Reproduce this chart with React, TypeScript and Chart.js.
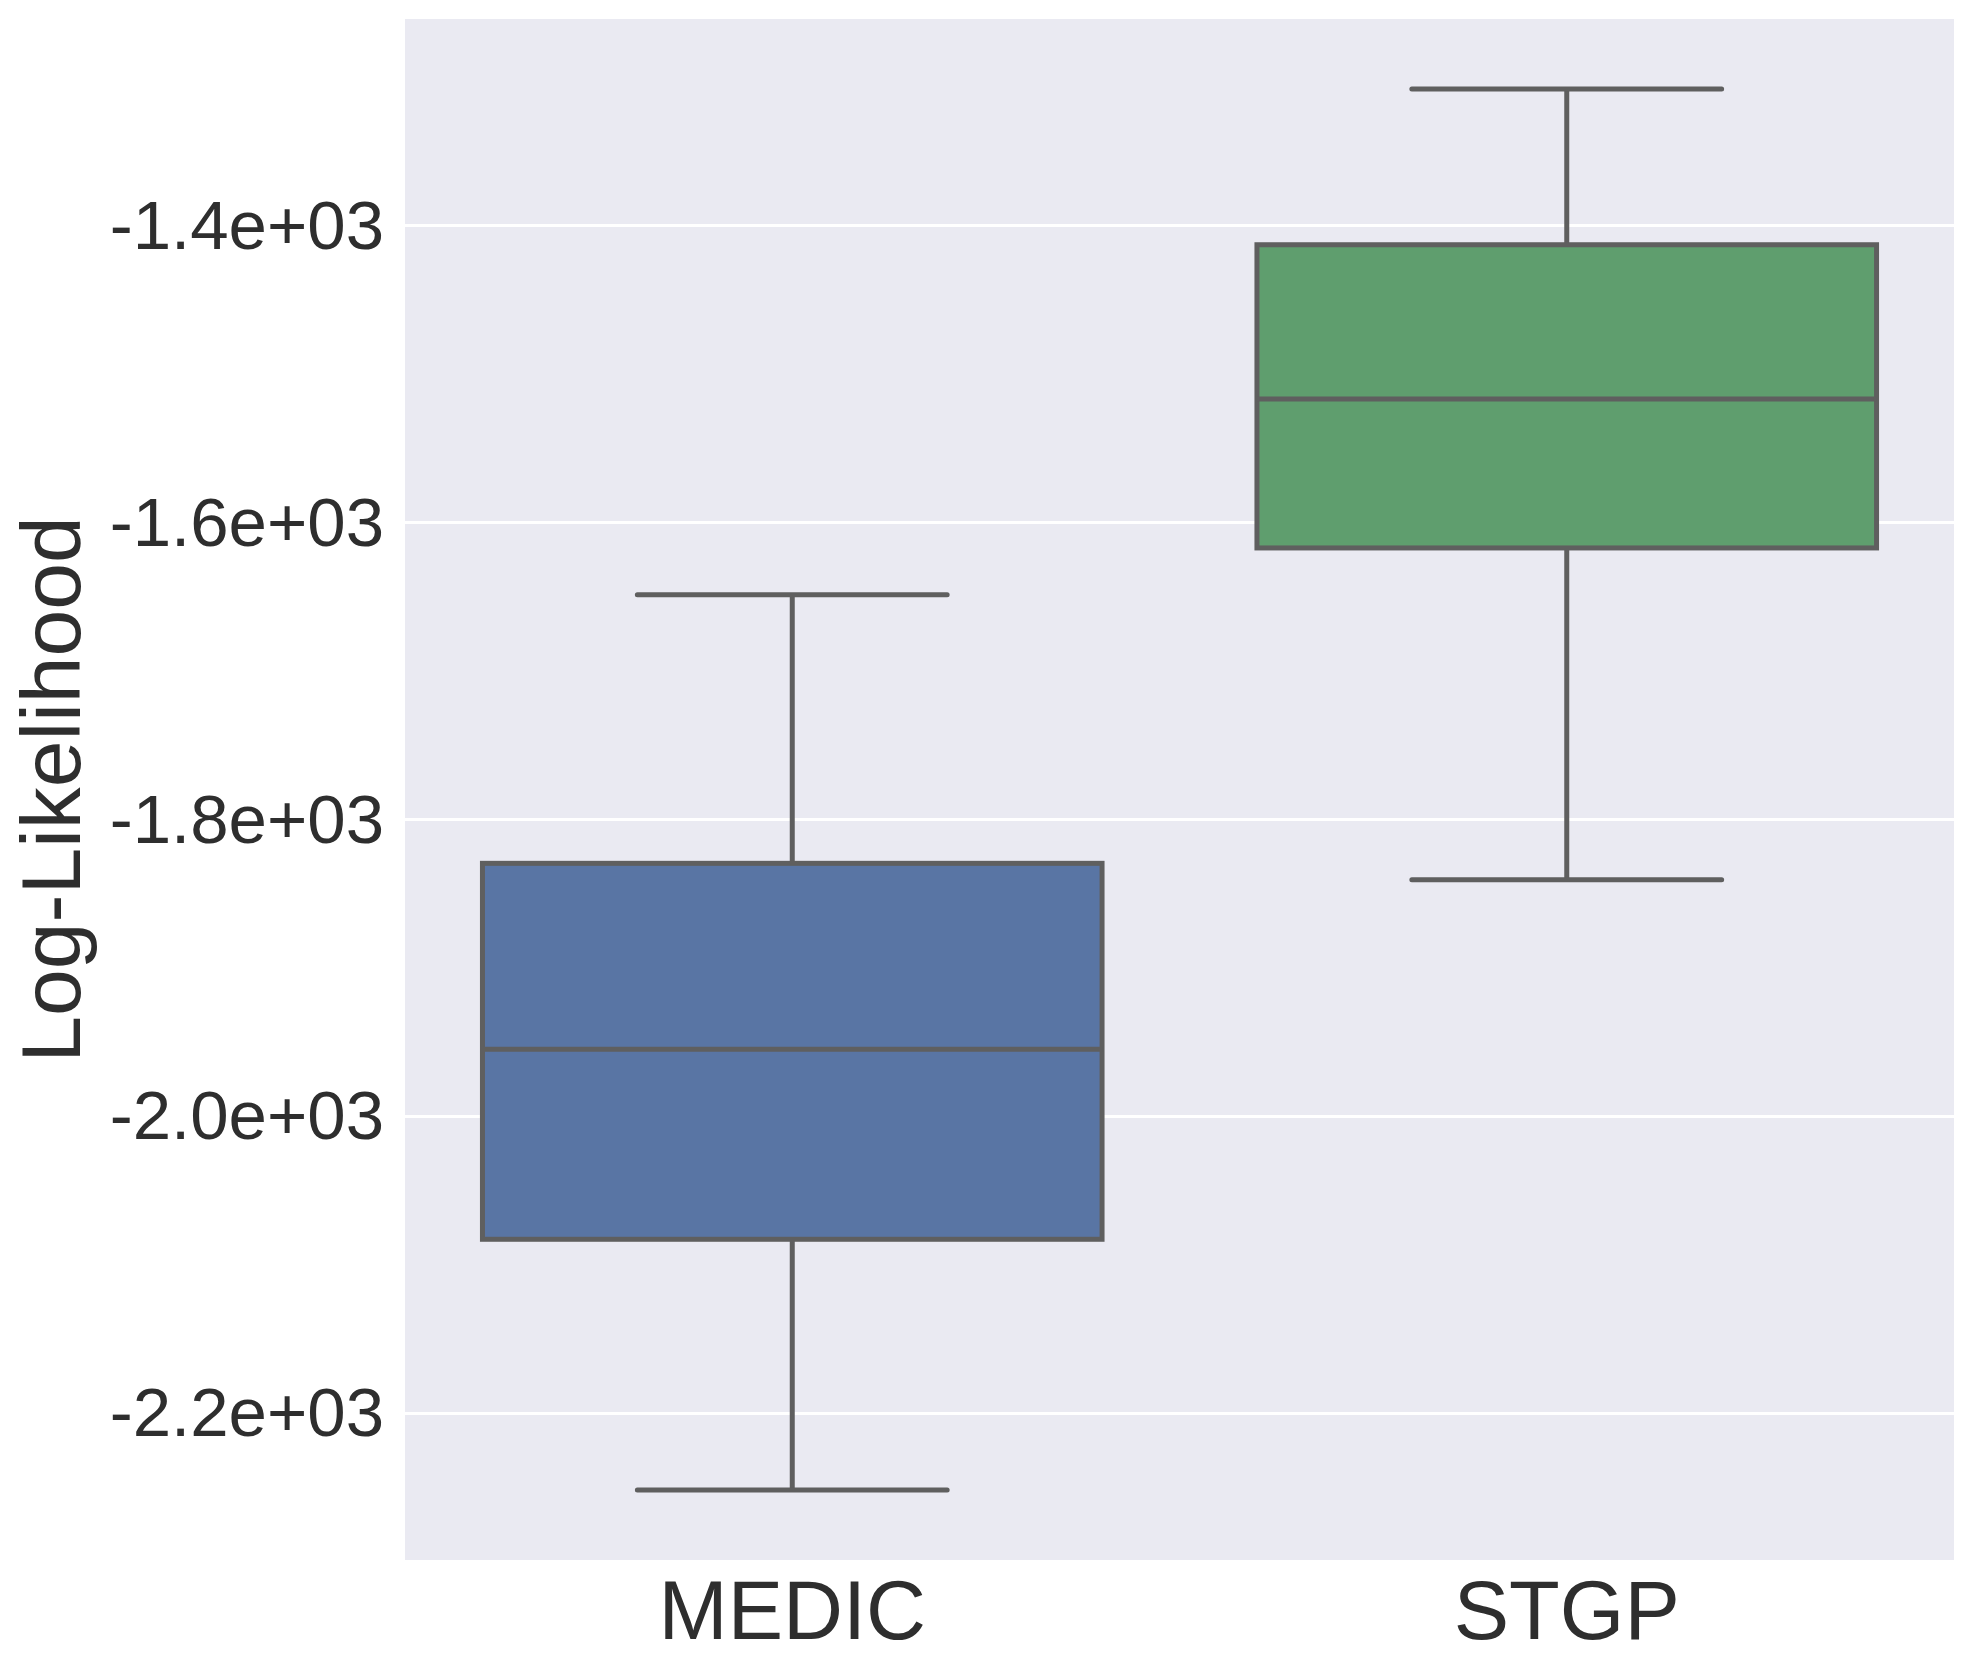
import React, { useEffect, useRef } from 'react';
import { Chart, registerables } from 'chart.js';

Chart.register(...registerables);

// ---- data ----
const categories = ['MEDIC', 'STGP'];
const whiskerLow = [-2251.7, -1840.5];
const q1 = [-2082.8, -1617.0];
const median = [-1954.8, -1516.7];
const q3 = [-1829.5, -1412.7];
const whiskerHigh = [-1648.6, -1307.8];
const boxColors = ['#5975a4', '#5f9e6e'];
const yTickValues = [-2200, -2000, -1800, -1600, -1400];
const yTickLabels = ['-2.2e+03', '-2.0e+03', '-1.8e+03', '-1.6e+03', '-1.4e+03'];
const yAxisLabel = 'Log-Likelihood';

const LINE_COLOR = '#5f5f5f';
const TEXT_COLOR = '#2e2e2e';
const FONT = '"Liberation Sans", Arial, sans-serif';

const dataMin = Math.min(...whiskerLow);
const dataMax = Math.max(...whiskerHigh);
const margin = (dataMax - dataMin) * 0.05;

const boxPlugin = {
  id: 'boxExtras',
  beforeDraw(chart: any) {
    const { ctx, chartArea } = chart;
    ctx.save();
    ctx.fillStyle = '#eaeaf2';
    ctx.fillRect(chartArea.left, chartArea.top, chartArea.right - chartArea.left, chartArea.bottom - chartArea.top);
    ctx.restore();
  },
  afterDatasetsDraw(chart: any) {
    const { ctx } = chart;
    const xs = chart.scales.x;
    const ys = chart.scales.y;
    const step = xs.getPixelForValue(1) - xs.getPixelForValue(0);
    ctx.save();
    ctx.strokeStyle = LINE_COLOR;
    categories.forEach((_, i) => {
      const cx = xs.getPixelForValue(i);
      const half = step * 0.4;
      const capHalf = step * 0.2;
      const yQ1 = ys.getPixelForValue(q1[i]);
      const yQ3 = ys.getPixelForValue(q3[i]);
      const yMed = ys.getPixelForValue(median[i]);
      const yLo = ys.getPixelForValue(whiskerLow[i]);
      const yHi = ys.getPixelForValue(whiskerHigh[i]);
      // whiskers
      ctx.lineCap = 'butt';
      ctx.lineWidth = 5;
      ctx.beginPath();
      ctx.moveTo(cx, yQ3);
      ctx.lineTo(cx, yHi);
      ctx.moveTo(cx, yQ1);
      ctx.lineTo(cx, yLo);
      ctx.stroke();
      // caps
      ctx.lineCap = 'round';
      ctx.beginPath();
      ctx.moveTo(cx - capHalf, yHi);
      ctx.lineTo(cx + capHalf, yHi);
      ctx.moveTo(cx - capHalf, yLo);
      ctx.lineTo(cx + capHalf, yLo);
      ctx.stroke();
      ctx.lineCap = 'butt';
      // box outline
      ctx.lineWidth = 5;
      ctx.strokeRect(cx - half, yQ3, half * 2, yQ1 - yQ3);
      // median
      ctx.beginPath();
      ctx.moveTo(cx - half, yMed);
      ctx.lineTo(cx + half, yMed);
      ctx.stroke();
    });
    ctx.restore();
  },
};

function formatTick(v: number): string {
  const idx = yTickValues.indexOf(v);
  return idx >= 0 ? yTickLabels[idx] : '';
}

export default function App() {
  const canvasRef = useRef<HTMLCanvasElement | null>(null);

  useEffect(() => {
    const canvas = canvasRef.current;
    if (!canvas) return;
    const chart = new Chart(canvas, {
      type: 'bar',
      data: {
        labels: categories,
        datasets: [
          {
            data: categories.map((_, i) => [q1[i], q3[i]]) as any,
            backgroundColor: boxColors,
            borderWidth: 0,
            barPercentage: 0.8,
            categoryPercentage: 1,
          },
        ],
      },
      options: {
        responsive: false,
        animation: false,
        devicePixelRatio: 1,
        layout: { padding: { left: 0, top: 19, right: 20, bottom: 0 } },
        plugins: {
          legend: { display: false },
          tooltip: { enabled: false },
        },
        scales: {
          x: {
            grid: { display: false, drawTicks: false },
            border: { display: false },
            ticks: {
              color: TEXT_COLOR,
              font: { family: FONT, size: 83 },
              padding: 6,
            },
            afterFit(scale: any) {
              scale.height = 117;
              scale.paddingLeft = 0;
              scale.paddingRight = 0;
            },
          },
          y: {
            min: dataMin - margin,
            max: dataMax + margin,
            grid: { color: '#ffffff', lineWidth: 3, drawTicks: false },
            border: { display: false },
            afterBuildTicks(scale: any) {
              scale.ticks = yTickValues.map((v) => ({ value: v }));
            },
            ticks: {
              color: TEXT_COLOR,
              font: { family: FONT, size: 69 },
              padding: 21,
              labelOffset: 4,
              callback: (v: any) => formatTick(Number(v)),
            },
            title: {
              display: true,
              text: yAxisLabel,
              color: TEXT_COLOR,
              font: { family: FONT, size: 84, lineHeight: 1 },
              padding: { top: 15, bottom: 0 },
            },
            afterFit(scale: any) {
              scale.width = 405;
              scale.paddingTop = 0;
              scale.paddingBottom = 0;
            },
          },
        },
      },
      plugins: [boxPlugin],
    });
    return () => chart.destroy();
  }, []);

  return (
    <div style={{ position: 'absolute', left: 0, top: 0, width: 1974, height: 1677, background: '#ffffff' }}>
      <canvas ref={canvasRef} width={1974} height={1677} style={{ width: 1974, height: 1677, display: 'block' }} />
    </div>
  );
}
